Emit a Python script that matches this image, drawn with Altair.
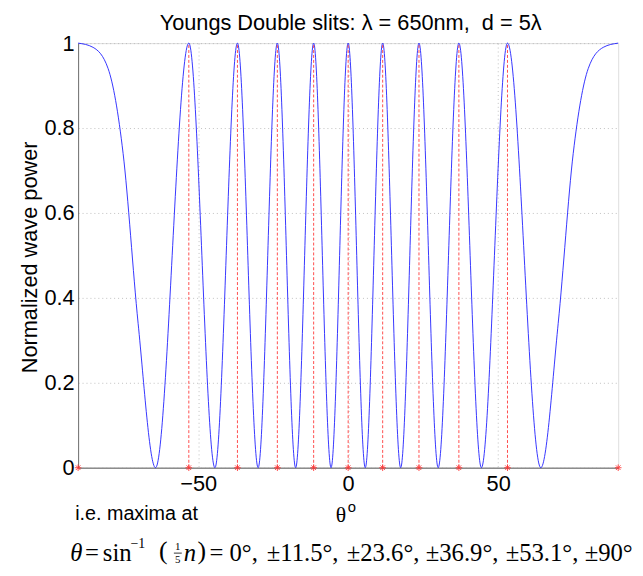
import altair as alt
import pandas as pd

# Curve (angle in degrees, normalized power)
theta_curve = [-90, -85, -80, -75, -70, -64.2, -53.1, -44.4, -36.9, -30.0, -23.6, -17.5, -11.5, -5.7,
               0, 5.7, 11.5, 17.5, 23.6, 30.0, 36.9, 44.4, 53.1, 64.2, 70, 75, 80, 85, 90]
power_curve = [1, 0.99, 0.94, 0.74, 0.34, 0, 1, 0, 1, 0, 1, 0, 1, 0,
               1, 0, 1, 0, 1, 0, 1, 0, 1, 0, 0.34, 0.74, 0.94, 0.99, 1]

# Maxima positions
maxima_theta = [-90, -53.1, -36.9, -23.6, -11.5, 0, 11.5, 23.6, 36.9, 53.1, 90]

x_ticks = [-50, 0, 50]
y_ticks = [0, 0.2, 0.4, 0.6, 0.8, 1]

title_text = "Youngs Double slits: λ = 650nm,\u00a0\u00a0d = 5λ"
y_title = "Normalized wave power"
note_text = "i.e. maxima at"

curve_df = pd.DataFrame({"theta": theta_curve, "power": power_curve})
max_df = pd.DataFrame({"theta": maxima_theta, "zero": [0] * len(maxima_theta),
                       "one": [1] * len(maxima_theta)})

X0, Y0 = 79, 40  # plot origin on page

xscale = alt.Scale(domain=[-90, 90], nice=False, zero=False)
yscale = alt.Scale(domain=[0, 1], nice=False)

xaxis = alt.Axis(values=x_ticks, title=None, grid=True, ticks=False, labelFontSize=22,
                 labelFont="Liberation Sans", labelColor="#000", labelPadding=6,
                 gridDash=[1, 3], gridColor="#b0b0b0", gridWidth=0.8,
                 domainColor="#8c8c8c", domainWidth=1.5)
yaxis = alt.Axis(values=y_ticks, title=None, grid=True, ticks=False, labelFontSize=22,
                 labelFont="Liberation Sans", labelColor="#000", labelPadding=4, format="~g",
                 gridDash=[1, 3], gridColor="#b0b0b0", gridWidth=0.8,
                 domainColor="#707070", domainWidth=1)

curve = alt.Chart(curve_df).mark_line(
    interpolate="monotone", color="#1f1fff", strokeWidth=1, opacity=0.9
).encode(
    x=alt.X("theta:Q", scale=xscale, axis=xaxis),
    y=alt.Y("power:Q", scale=yscale, axis=yaxis),
)

lines = alt.Chart(max_df).transform_filter("abs(datum.theta) < 90").mark_rule(
    color="#ff3a3a", strokeDash=[3, 2], strokeWidth=1, opacity=0.9
).encode(
    x=alt.X("theta:Q", scale=xscale),
    y=alt.Y("zero:Q", scale=yscale),
    y2="one:Q",
)

asterisk = "M-1,0L1,0M0,-1L0,1M-0.7,-0.7L0.7,0.7M-0.7,0.7L0.7,-0.7"
stars = alt.Chart(max_df).mark_point(
    shape=asterisk, filled=False, color="#ff3030", size=45, strokeWidth=1, opacity=0.85
).encode(
    x=alt.X("theta:Q", scale=xscale),
    y=alt.Y("zero:Q", scale=yscale),
)


def txt(s, x, y, size, font="Liberation Sans", style="normal", align="left",
        angle=0, baseline="alphabetic"):
    kw = dict(fontSize=size, font=font, fontStyle=style, align=align,
              baseline=baseline, color="#000")
    if angle:
        kw["angle"] = angle
    return alt.Chart(alt.Data(values=[{"t": s}])).mark_text(**kw).encode(
        x=alt.value(x - X0), y=alt.value(y - Y0), text="t:N")


serif = "Liberation Serif"
texts = [
    txt(title_text, 355, 27, 22, align="center"),
    txt(y_title, 30, 257, 22, align="center", angle=270, baseline="middle"),
    txt(note_text, 76, 523, 20),
    txt("θ", 340, 525, 22, font=serif),
    txt("o", 352, 515, 15),
    # formula
    txt("θ", 71, 564, 25, font=serif, style="italic"),
    txt("=", 86, 564, 25, font=serif),
    txt("sin", 104, 564, 25, font=serif),
    txt("−1", 132, 551, 14, font=serif),
    txt("(", 161, 562, 26, font=serif),
    txt("1", 180, 553, 11, font=serif, align="center"),
    txt("5", 180, 567, 11, font=serif, align="center"),
    txt("n", 186, 564, 25, font=serif, style="italic"),
    txt(")", 200, 562, 26, font=serif),
    txt("= 0°,", 212, 564, 25, font=serif),
    txt("±11.5°,", 270, 564, 25, font=serif),
    txt("±23.6°,", 351, 564, 25, font=serif),
    txt("±36.9°,", 431, 564, 25, font=serif),
    txt("±53.1°,", 512, 564, 25, font=serif),
    txt("±90°", 592, 564, 25, font=serif),
]

frac_bar = alt.Chart(alt.Data(values=[{"a": 1}])).mark_rule(color="#000", strokeWidth=0.8).encode(
    x=alt.value(176 - X0), x2=alt.value(184 - X0), y=alt.value(556.5 - Y0))

chart = alt.layer(curve, lines, stars, frac_bar, *texts).properties(
    width=547, height=430,
    autosize=alt.AutoSizeParams(type="none"),
    padding={"left": 71, "top": 32, "right": 17, "bottom": 98},
).configure_view(stroke="#7a7a7a", strokeWidth=1).configure(background="white")

chart.save("out.html", embed_options={"renderer": "svg", "actions": False})
